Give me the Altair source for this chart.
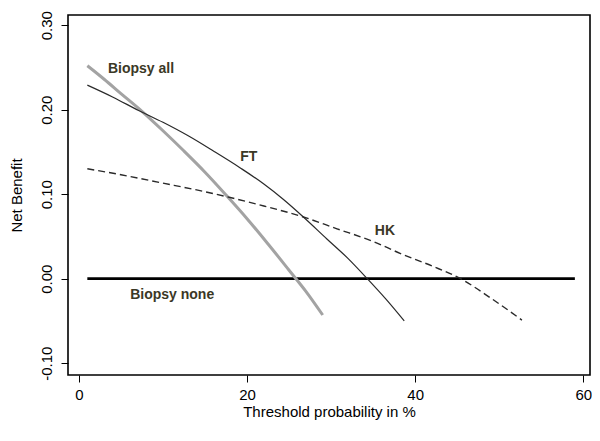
import altair as alt
import pandas as pd

# Threshold probability (%) and net benefit
x_all = [1, 3, 5, 7.5, 10, 12.5, 15, 17.5, 20, 22.5, 25, 27, 29]
y_all = [0.252, 0.236, 0.219, 0.198, 0.175, 0.151, 0.126, 0.099, 0.071, 0.041, 0.010, -0.015, -0.043]

x_ft = [1, 4, 7.1, 10, 13, 16, 19.2, 22, 24.3, 26.7, 29.5, 32, 34.3, 36.5, 38.7]
y_ft = [0.229, 0.215, 0.199, 0.185, 0.169, 0.151, 0.131, 0.112, 0.094, 0.073, 0.047, 0.024, 0.0, -0.024, -0.050]

x_hk = [1, 5, 10, 14, 18, 22, 26.7, 30.7, 35, 38.2, 42, 45.4, 49, 52.7]
y_hk = [0.130, 0.123, 0.113, 0.105, 0.096, 0.086, 0.073, 0.059, 0.044, 0.030, 0.015, 0.0, -0.023, -0.049]

x_none = [1, 59]
y_none = [0.0, 0.0]

label_text = ["Biopsy all", "FT", "HK", "Biopsy none"]
label_x = [3.45, 19.2, 35.2, 6.1]
label_y = [0.248, 0.144, 0.056, -0.0195]

x_ticks = [0, 20, 40, 60]
y_ticks = [-0.1, 0.0, 0.1, 0.2, 0.3]

FONT = "Liberation Sans"

xscale = alt.Scale(domain=[-1.3, 60.8], nice=False, zero=False)
yscale = alt.Scale(domain=[-0.114, 0.312], nice=False, zero=False)

xaxis = alt.Axis(values=x_ticks, title="Threshold probability in %", grid=False, domain=False,
                 tickSize=7, tickColor="black", tickWidth=1, labelPadding=5, labelFlush=False,
                 labelFontSize=15, labelFont=FONT, labelColor="black",
                 titleFontSize=15, titleFont=FONT, titleFontWeight="normal", titleColor="black",
                 titlePadding=2)
yaxis = alt.Axis(values=y_ticks, title="Net Benefit", grid=False, domain=False,
                 labelExpr="datum.value < 0 ? '-' + format(abs(datum.value), '.2f') : format(datum.value, '.2f')",
                 labelAngle=-90, labelAlign="center", labelBaseline="bottom",
                 tickSize=7, tickColor="black", tickWidth=1, labelPadding=7, labelFlush=False,
                 labelFontSize=15, labelFont=FONT, labelColor="black",
                 titleFontSize=15, titleFont=FONT, titleFontWeight="normal", titleColor="black",
                 titlePadding=15)


def line(xs, ys, **mk):
    df = pd.DataFrame({"x": xs, "y": ys})
    return alt.Chart(df).mark_line(interpolate="monotone", **mk).encode(
        x=alt.X("x:Q", scale=xscale, axis=xaxis),
        y=alt.Y("y:Q", scale=yscale, axis=yaxis),
    )


l_none = line(x_none, y_none, color="black", strokeWidth=2.8)
l_all = line(x_all, y_all, color="#a3a3a3", strokeWidth=3)
l_ft = line(x_ft, y_ft, color="#2a2a2a", strokeWidth=1.2)
l_hk = line(x_hk, y_hk, color="#2a2a2a", strokeWidth=1.4, strokeDash=[7, 4])

labels = alt.Chart(pd.DataFrame({"t": label_text, "x": label_x, "y": label_y})).mark_text(
    align="left", baseline="middle", font=FONT, fontSize=14, fontWeight="bold", color="#3b3826"
).encode(
    x=alt.X("x:Q", scale=xscale, axis=xaxis),
    y=alt.Y("y:Q", scale=yscale, axis=yaxis),
    text="t:N",
)

chart = alt.layer(l_none, l_all, l_ft, l_hk, labels).properties(
    width=522, height=360,
    autosize=alt.AutoSizeParams(type="none"),
    padding={"left": 60, "top": 7, "right": 2, "bottom": 50},
    background="white",
).configure_view(stroke="black", strokeWidth=1.6)

chart.save("out.html", embed_options={"renderer": "svg", "actions": False})
